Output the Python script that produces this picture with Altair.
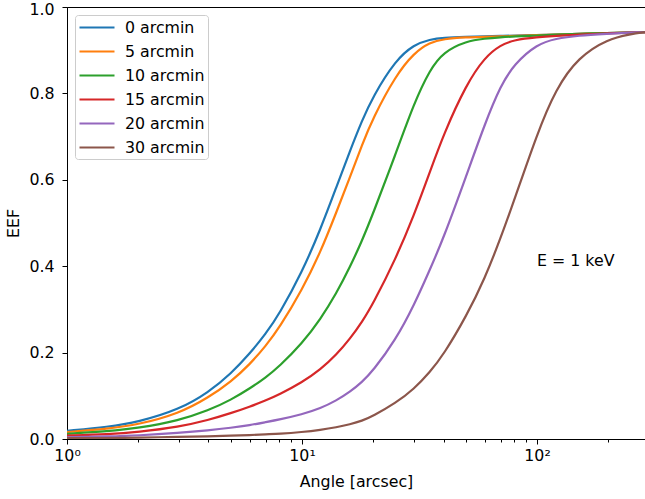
import altair as alt
import pandas as pd

# Encircled energy fraction versus radius for several off-axis angles (E = 1 keV)
angles = [1, 1.5, 2, 3, 4, 5, 6, 7, 8, 10, 12, 14, 16, 18, 20, 25, 30, 35, 40,
          50, 60, 70, 80, 100, 120, 150, 200, 250, 288]

eef_0 = [0.019, 0.028, 0.039, 0.068, 0.108, 0.152, 0.198, 0.243, 0.289, 0.386,
         0.486, 0.583, 0.667, 0.737, 0.792, 0.877, 0.913, 0.925, 0.929, 0.931,
         0.932, 0.933, 0.934, 0.935, 0.936, 0.938, 0.940, 0.941, 0.942]
eef_5 = [0.016, 0.024, 0.033, 0.059, 0.096, 0.133, 0.173, 0.215, 0.257, 0.345,
         0.433, 0.525, 0.606, 0.681, 0.742, 0.841, 0.894, 0.918, 0.926, 0.930,
         0.931, 0.932, 0.933, 0.935, 0.936, 0.938, 0.940, 0.941, 0.942]
eef_10 = [0.012, 0.018, 0.025, 0.043, 0.066, 0.091, 0.117, 0.142, 0.168, 0.221,
          0.278, 0.337, 0.398, 0.459, 0.520, 0.659, 0.778, 0.855, 0.896, 0.921,
          0.927, 0.930, 0.932, 0.934, 0.936, 0.938, 0.940, 0.941, 0.942]
eef_15 = [0.008, 0.011, 0.016, 0.028, 0.044, 0.060, 0.075, 0.089, 0.103, 0.131,
          0.161, 0.195, 0.232, 0.271, 0.312, 0.416, 0.519, 0.618, 0.705, 0.821,
          0.884, 0.912, 0.924, 0.930, 0.933, 0.936, 0.939, 0.941, 0.942]
eef_20 = [0.004, 0.006, 0.008, 0.014, 0.020, 0.026, 0.032, 0.039, 0.045, 0.057,
          0.071, 0.089, 0.109, 0.132, 0.157, 0.229, 0.310, 0.392, 0.465, 0.609,
          0.730, 0.818, 0.868, 0.914, 0.927, 0.934, 0.938, 0.941, 0.942]
eef_30 = [0.002, 0.002, 0.003, 0.005, 0.006, 0.008, 0.009, 0.011, 0.012, 0.016,
          0.021, 0.027, 0.034, 0.042, 0.053, 0.083, 0.116, 0.155, 0.195, 0.284,
          0.372, 0.465, 0.553, 0.706, 0.810, 0.884, 0.926, 0.937, 0.942]

series_names = ["0 arcmin", "5 arcmin", "10 arcmin", "15 arcmin", "20 arcmin", "30 arcmin"]
series_values = [eef_0, eef_5, eef_10, eef_15, eef_20, eef_30]
series_colors = ["#1f77b4", "#ff7f0e", "#2ca02c", "#d62728", "#9467bd", "#8c564b"]

major_ticks = [1, 10, 100]
minor_ticks = [2, 3, 4, 5, 6, 7, 8, 9, 20, 30, 40, 50, 60, 70, 80, 90, 200]
y_ticks = [0.0, 0.2, 0.4, 0.6, 0.8, 1.0]

note_x = [100]
note_y = [0.4]
note_text = ["E = 1 keV"]

rows = []
for name, vals in zip(series_names, series_values):
    for a, v in zip(angles, vals):
        rows.append({"angle": a, "eef": v, "offaxis": name})
df = pd.DataFrame(rows)
note_df = pd.DataFrame({"angle": note_x, "eef": note_y, "label": note_text})

FONT = "DejaVu Sans"
FS = 15.8
major_test = "datum.value == 1 || datum.value == 10 || datum.value == 100"

x_enc = alt.X(
    "angle:Q",
    scale=alt.Scale(type="log", domain=[1, 288], nice=False),
    axis=alt.Axis(
        title="Angle [arcsec]",
        values=major_ticks + minor_ticks,
        labelExpr="datum.value == 1 ? '10⁰' : datum.value == 10 ? '10¹' : datum.value == 100 ? '10²' : ''",
        tickSize={"condition": {"test": major_test, "value": 5}, "value": 3},
        labelOverlap=False,
        labelFlush=False,
        labelPadding=4,
        titlePadding=12,
    ),
)
y_enc = alt.Y(
    "eef:Q",
    scale=alt.Scale(domain=[0, 1], nice=False),
    axis=alt.Axis(
        title="EEF",
        values=y_ticks,
        format=".1f",
        tickSize=5,
        labelPadding=8,
        labelFlush=False,
        labelOffset={"condition": {"test": "datum.value == 1", "value": 2}, "value": 0},
        titleAngle=-90,
        titleX=-54,
        titleY=216,
        titleAlign="center",
        titleBaseline="middle",
    ),
)

lines = alt.Chart(df).mark_line(strokeWidth=2.2, interpolate="basis", clip=True).encode(
    x=x_enc,
    y=y_enc,
    color=alt.Color(
        "offaxis:N",
        scale=alt.Scale(domain=series_names, range=series_colors),
        legend=alt.Legend(
            title=None,
            orient="none",
            legendX=8,
            legendY=8,
            symbolType="M-1,0H3.375",
            symbolSize=256,
            symbolStrokeWidth=2.2,
            symbolFillColor="transparent",
            labelFont=FONT,
            labelFontSize=FS,
            labelColor="black",
            labelOffset=28,
            rowPadding=6.0,
            padding=3,
            fillColor="rgba(255,255,255,0.8)",
            strokeColor="#cccccc",
            cornerRadius=3,
        ),
    ),
    order=alt.Order("angle:Q"),
)

note = alt.Chart(note_df).mark_text(
    align="left", baseline="alphabetic", font=FONT, fontSize=FS, color="black"
).encode(x="angle:Q", y="eef:Q", text="label:N")

chart = (
    alt.layer(lines, note)
    .properties(
        width=578,
        height=432,
        background="white",
        autosize=alt.AutoSizeParams(type="none"),
        padding={"left": 67, "top": 7, "right": 0, "bottom": 60},
    )
    .configure_view(stroke="black", strokeWidth=1)
    .configure_axis(
        grid=False,
        domainColor="black",
        domainWidth=1,
        tickColor="black",
        tickWidth=1,
        labelFont=FONT,
        labelFontSize=FS,
        labelColor="black",
        titleFont=FONT,
        titleFontSize=FS,
        titleFontWeight="normal",
        titleColor="black",
    )
)

chart.save("out.html", embed_options={"renderer": "svg", "actions": False})
